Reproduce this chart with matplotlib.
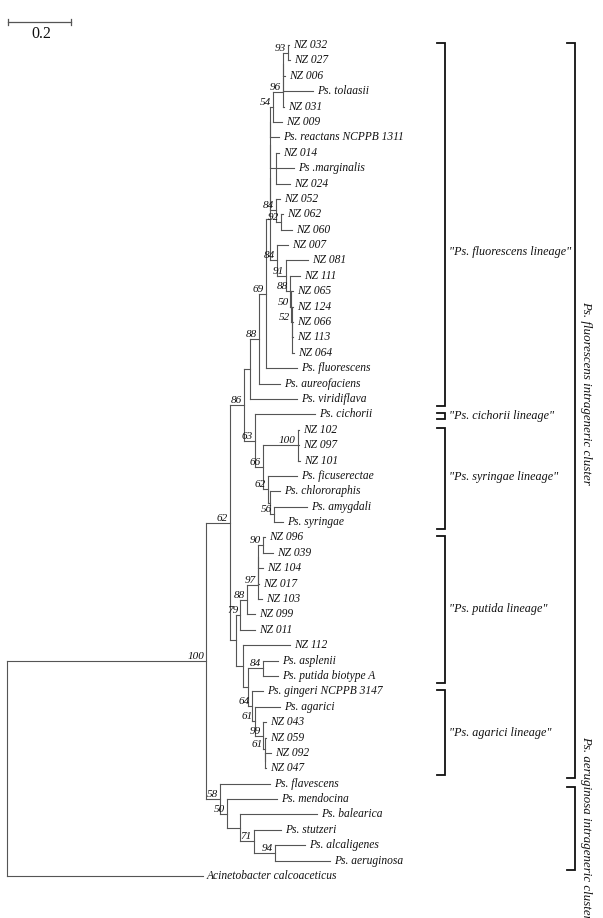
import matplotlib
matplotlib.use('Agg')
import matplotlib.pyplot as plt
from matplotlib.transforms import blended_transform_factory

plt.rcParams['font.family'] = ['Liberation Serif', 'DejaVu Serif']

# leaves, top to bottom
taxa = ["NZ 032", "NZ 027", "NZ 006", "Ps. tolaasii", "NZ 031", "NZ 009",
        "Ps. reactans NCPPB 1311", "NZ 014", "Ps .marginalis", "NZ 024",
        "NZ 052", "NZ 062", "NZ 060", "NZ 007", "NZ 081", "NZ 111", "NZ 065",
        "NZ 124", "NZ 066", "NZ 113", "NZ 064", "Ps. fluorescens",
        "Ps. aureofaciens", "Ps. viridiflava", "Ps. cichorii", "NZ 102",
        "NZ 097", "NZ 101", "Ps. ficuserectae", "Ps. chlororaphis",
        "Ps. amygdali", "Ps. syringae", "NZ 096", "NZ 039", "NZ 104", "NZ 017",
        "NZ 103", "NZ 099", "NZ 011", "NZ 112", "Ps. asplenii",
        "Ps. putida biotype A", "Ps. gingeri NCPPB 3147", "Ps. agarici",
        "NZ 043", "NZ 059", "NZ 092", "NZ 047", "Ps. flavescens",
        "Ps. mendocina", "Ps. balearica", "Ps. stutzeri", "Ps. alcaligenes",
        "Ps. aeruginosa", "Acinetobacter calcoaceticus"]

# terminal branch lengths (same order as taxa)
tip_len = [0.003, 0.006, 0.006, 0.095, 0.003, 0.029,
           0.029, 0.010, 0.057, 0.044,
           0.013, 0.006, 0.035, 0.035, 0.070, 0.032, 0.006,
           0.005, 0.003, 0.002, 0.005, 0.098,
           0.067, 0.149, 0.190, 0.003,
           0.003, 0.006, 0.092, 0.032,
           0.105, 0.029, 0.006, 0.032, 0.016, 0.003,
           0.013, 0.025, 0.048, 0.149, 0.048,
           0.048, 0.035, 0.079,
           0.010, 0.003, 0.019, 0.003, 0.159,
           0.159, 0.244, 0.086, 0.095,
           0.175, 0.622]

# internal nodes: name, children, branch length, bootstrap
clades = [
    ("c93", ["NZ 032", "NZ 027"], 0.016, "93"),
    ("c96a", ["c93", "NZ 006"], 0.0, ""),
    ("c96b", ["c96a", "Ps. tolaasii"], 0.0, ""),
    ("c96", ["c96b", "NZ 031"], 0.032, "96"),
    ("c54", ["c96", "NZ 009"], 0.010, "54"),
    ("cE", ["c54", "Ps. reactans NCPPB 1311"], 0.0, ""),
    ("c014", ["NZ 014", "Ps .marginalis", "NZ 024"], 0.019, ""),
    ("cD", ["cE", "c014"], 0.0, ""),
    ("c92", ["NZ 062", "NZ 060"], 0.016, "92"),
    ("c84a", ["NZ 052", "c92"], 0.019, "84"),
    ("cC", ["cD", "c84a"], 0.0, ""),
    ("cB", ["NZ 066", "NZ 113", "NZ 064"], 0.002, ""),
    ("c52", ["NZ 124", "cB"], 0.002, "52"),
    ("c50", ["NZ 065", "c52"], 0.003, "50"),
    ("c88b", ["NZ 111", "c50"], 0.013, "88"),
    ("c91", ["NZ 081", "c88b"], 0.029, "91"),
    ("c84b", ["NZ 007", "c91"], 0.022, "84"),
    ("cA", ["cC", "c84b"], 0.013, ""),
    ("c69", ["cA", "Ps. fluorescens"], 0.022, "69"),
    ("c88", ["c69", "Ps. aureofaciens"], 0.029, "88"),
    ("cU", ["c88", "Ps. viridiflava"], 0.019, ""),
    ("c100b", ["NZ 102", "NZ 097", "NZ 101"], 0.111, "100"),
    ("c56", ["Ps. amygdali", "Ps. syringae"], 0.013, "56"),
    ("cR", ["Ps. chlororaphis", "c56"], 0.006, ""),
    ("c62b", ["Ps. ficuserectae", "cR"], 0.016, "62"),
    ("c66", ["c100b", "c62b"], 0.025, "66"),
    ("c63", ["Ps. cichorii", "c66"], 0.035, "63"),
    ("c86", ["cU", "c63"], 0.044, "86"),
    ("c90", ["NZ 096", "NZ 039"], 0.016, "90"),
    ("c97a", ["c90", "NZ 104"], 0.0, ""),
    ("c97b", ["c97a", "NZ 017"], 0.0, ""),
    ("c97", ["c97b", "NZ 103"], 0.035, "97"),
    ("c88c", ["c97", "NZ 099"], 0.022, "88"),
    ("c79", ["c88c", "NZ 011"], 0.013, "79"),
    ("c84c", ["Ps. asplenii", "Ps. putida biotype A"], 0.048, "84"),
    ("cW", ["NZ 092", "NZ 047"], 0.0, ""),
    ("c61b", ["NZ 059", "cW"], 0.006, "61"),
    ("c99", ["NZ 043", "c61b"], 0.025, "99"),
    ("c61a", ["Ps. agarici", "c99"], 0.010, "61"),
    ("c64", ["Ps. gingeri NCPPB 3147", "c61a"], 0.013, "64"),
    ("cT", ["c84c", "c64"], 0.016, ""),
    ("cS", ["NZ 112", "cT"], 0.022, ""),
    ("cPA", ["c79", "cS"], 0.019, ""),
    ("c62", ["c86", "cPA"], 0.076, "62"),
    ("c94", ["Ps. alcaligenes", "Ps. aeruginosa"], 0.067, "94"),
    ("c71", ["Ps. stutzeri", "c94"], 0.044, "71"),
    ("cX", ["Ps. balearica", "c71"], 0.041, ""),
    ("c50c", ["Ps. mendocina", "cX"], 0.022, "50"),
    ("c58", ["Ps. flavescens", "c50c"], 0.044, "58"),
    ("c100", ["c62", "c58"], 0.632, "100"),
    ("root", ["c100", "Acinetobacter calcoaceticus"], 0.0, ""),
]

# lineage brackets: label, first taxon, last taxon
lineages = [('"Ps. fluorescens lineage"', "NZ 032", "Ps. viridiflava"),
            ('"Ps. cichorii lineage"', "Ps. cichorii", "Ps. cichorii"),
            ('"Ps. syringae lineage"', "NZ 102", "Ps. syringae"),
            ('"Ps. putida lineage"', "NZ 096", "Ps. putida biotype A"),
            ('"Ps. agarici lineage"', "Ps. gingeri NCPPB 3147", "NZ 047")]
lineage_label_row = [13.45, 24.1, 28.1, 36.65, 44.7]

clusters = [("Ps. fluorescens intrageneric cluster", "NZ 032", "NZ 047"),
            ("Ps. aeruginosa intrageneric cluster", "Ps. flavescens", "Ps. aeruginosa")]
cluster_label_row = [22.6, 50.85]

scale_len = 0.2

# ---- layout ----
kids = {c[0]: c[1] for c in clades}
blen = {c[0]: c[2] for c in clades}
boot = {c[0]: c[3] for c in clades}
for t, l in zip(taxa, tip_len):
    blen[t] = l

X, Y = {}, {}


def place(node, x):
    X[node] = x
    if node not in kids:
        Y[node] = taxa.index(node)
        return
    for ch in kids[node]:
        place(ch, x + blen[ch])
    Y[node] = (Y[kids[node][0]] + Y[kids[node][-1]]) / 2


place("root", 0.0)

W, H = 603, 918
fig = plt.figure(figsize=(W / 100, H / 100), dpi=100)
ax = fig.add_axes([0, 0, 1, 1])
px = 1 / 315.0          # tree units per pixel
row = 15.39             # pixels per leaf row
ax.set_xlim(-7 * px, (W - 7) * px)
ax.set_ylim((H - 45) / row, -45 / row)
ax.axis('off')

lc = '#555555'
tc = '#111111'
for node, ch in kids.items():
    ax.plot([X[node], X[node]], [Y[ch[0]], Y[ch[-1]]], color=lc, lw=0.8)
    for c in ch:
        ax.plot([X[node], X[c]], [Y[c], Y[c]], color=lc, lw=0.8)
    if boot[node]:
        ax.annotate(boot[node], (X[node], Y[node]), xytext=(-2, 2),
                    textcoords='offset pixels', ha='right', va='baseline',
                    fontsize=8, style='italic', color=tc)

for t in taxa:
    ax.annotate(t, (X[t], Y[t]), xytext=(4, 0), textcoords='offset pixels',
                ha='left', va='center', fontsize=8.3, style='italic',
                color=tc)

# scale bar
sy = -1.49
ax.plot([1 * px, 1 * px + scale_len], [sy, sy], color=lc, lw=0.9)
for sx in [1 * px, 1 * px + scale_len]:
    ax.plot([sx, sx], [sy - 0.2, sy + 0.2], color=lc, lw=0.9)
ax.text(1 * px + scale_len / 2 + 0.006, -0.72, "0.2", ha='center',
        va='center', fontsize=11.5, color=tc)

# brackets on the right
tr = blended_transform_factory(ax.transAxes, ax.transData)
bx, bt = 445 / W, 437 / W
for (lab, a, b), ry in zip(lineages, lineage_label_row):
    y1 = taxa.index(a) - 0.1
    y2 = taxa.index(b) + 0.45
    if a == b:
        y1, y2 = taxa.index(a) - 0.1, taxa.index(a) + 0.3
    ax.plot([bt, bx, bx, bt], [y1, y1, y2, y2], color=tc, lw=1.3,
            transform=tr, solid_joinstyle='miter')
    ax.text(bx + 4 / W, ry, lab, transform=tr, ha='left', va='center',
            fontsize=8.7, style='italic', color=tc)

cx, ct = 575 / W, 567 / W
for (lab, a, b), ry in zip(clusters, cluster_label_row):
    y1 = taxa.index(a) - 0.1 + (0.3 if a != "NZ 032" else 0)
    y2 = taxa.index(b) + 0.6
    ax.plot([ct, cx, cx, ct], [y1, y1, y2, y2], color=tc, lw=1.3,
            transform=tr, solid_joinstyle='miter')
    ax.text(586 / W, ry, lab, transform=tr, ha='center', va='center',
            rotation=-90, fontsize=9.3, style='italic', color=tc)

fig.savefig('out.png', dpi=100)
